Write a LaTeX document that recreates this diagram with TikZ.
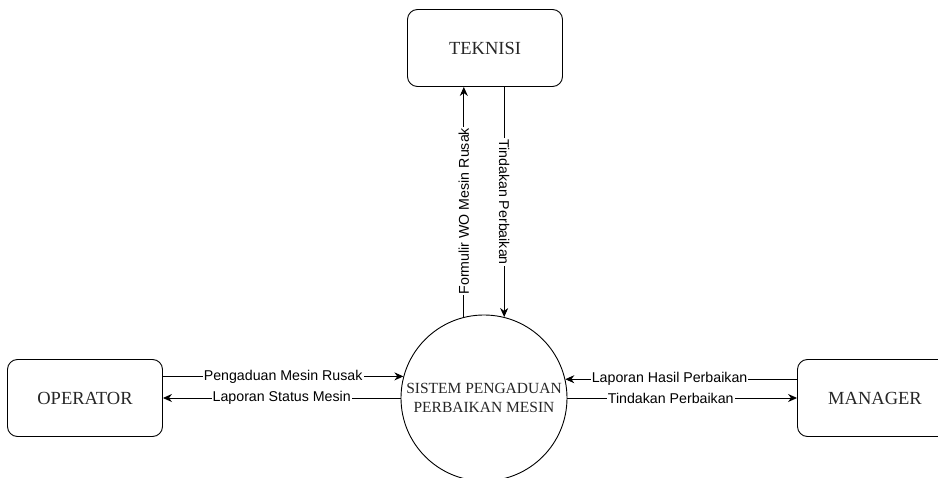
\documentclass[tikz,border=0pt]{standalone}
\usepackage{fontspec}
\setmainfont{Liberation Serif}
\setsansfont{Liberation Sans}
\usetikzlibrary{arrows.meta}

\begin{document}
\begin{tikzpicture}[x=1pt,y=-1pt]
\tikzstyle{entity}=[draw, rounded corners=10pt, minimum width=155pt, minimum height=77pt, line width=0.9pt, text=black!85, font=\fontsize{18.5}{20}\selectfont]
\tikzstyle{process}=[draw, circle, minimum size=166pt, inner sep=0pt, line width=0.9pt, align=center, text=black!85, font=\fontsize{15.5}{19}\selectfont]
\tikzstyle{flow}=[line width=0.9pt, -{Stealth[length=9pt,width=8pt]}]
\tikzstyle{lbl}=[fill=white, inner sep=1pt, font=\sffamily\fontsize{14.2}{16}\selectfont]
\useasboundingbox (0,0) rectangle (938,478);
\node [entity] (teknisi) at (485,48) {TEKNISI};
\node [entity] (operator) at (85,398) {OPERATOR};
\node [entity] (manager) at (875,398) {MANAGER};
\node [process] (sistem) at (484,398) {SISTEM PENGADUAN\\PERBAIKAN MESIN};
\draw [flow] (sistem.104) -- (sistem.104 |- teknisi.south) node [lbl, rotate=90, pos=0.46] {Formulir WO Mesin Rusak};
\draw [flow] (teknisi.south -| sistem.76) -- (sistem.76) node [lbl, rotate=-90, midway] {Tindakan Perbaikan};
\draw [flow] (operator.east |- sistem.165) -- (sistem.165) node [lbl, midway] {Pengaduan Mesin Rusak};
\draw [flow] (sistem.west) -- (operator.east) node [lbl, midway] {Laporan Status Mesin};
\draw [flow] (manager.west |- sistem.13) -- (sistem.13) node [lbl, pos=0.55] {Laporan Hasil Perbaikan};
\draw [flow] (sistem.east) -- (manager.west) node [lbl, pos=0.45] {Tindakan Perbaikan};
\end{tikzpicture}
\end{document}
